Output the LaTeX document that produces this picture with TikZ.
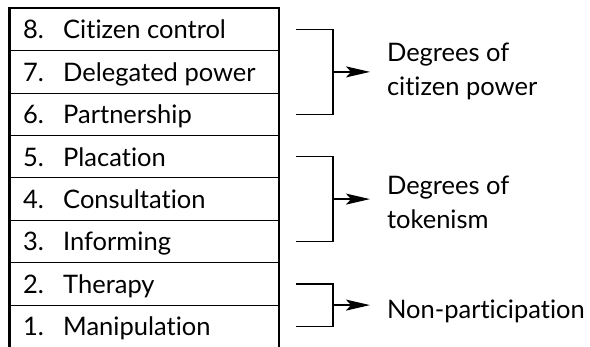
\documentclass[tikz,border=0pt]{standalone}
\usepackage{fontspec}
\setmainfont{Lato}[Ligatures=NoCommon]
\usetikzlibrary{positioning, arrows.meta, calc}

\tikzset{
    rung/.style={minimum width=269.5pt, minimum height=42.4pt, inner sep=0, outer sep=0},
    rungline/.style={line width=1.1pt},
    frame/.style={line width=2.4pt, line join=miter},
    brace/.style={line width=1.3pt},
    txt/.style={anchor=base west, inner sep=0},
    group/.style={align=left, inner sep=0, outer sep=0}
}

\begin{document}
\begin{tikzpicture}[>={Stealth[length=24pt, width=11pt, inset=5pt]}, x=1pt, y=-1pt, font=\fontsize{25.5}{34}\selectfont]
    \useasboundingbox (0,0) rectangle (590,347);

    % Ladder rungs
    \foreach \n/\val in {8/{Citizen control}, 7/{Delegated power}, 6/{Partnership}, 5/{Placation}, 4/{Consultation}, 3/{Informing}, 2/{Therapy}, 1/{Manipulation}} {
        \node[rung] (r\n) at (144.25, {8.3+(8-\n)*42.4+21.2}) {};
        \node[txt] (n\n) at ($(r\n.west)+(13.5,9.5)$) {\n.};
        \node[txt] (t\n) at ($(r\n.west)+(53.5,9.5)$) {\val};
    }
    \foreach \n in {7,...,1} {
        \draw[rungline] (r\n.north west) -- (r\n.north east);
    }
    \draw[frame] (r1.south west) -- (r8.north west) -- (r8.north east) -- (r1.south east);

    % Brackets
    \coordinate (m1) at ([xshift=54pt]r7.east);
    \coordinate (m2) at ([xshift=54pt]r4.east);
    \coordinate (m3) at ($(r2.east)!0.5!(r1.east)+(54,0)$);
    \draw[brace] ([xshift=17pt]r8.east) -| (m1) |- ([xshift=17pt]r6.east);
    \draw[brace] ([xshift=17pt]r5.east) -| (m2) |- ([xshift=17pt]r3.east);
    \draw[brace] ([xshift=17pt]r2.east) -| (m3) |- ([xshift=17pt]r1.east);

    % Arrow tips and groups
    \coordinate (a1) at ([xshift=37pt]m1);
    \coordinate (a2) at ([xshift=37pt]m2);
    \coordinate (a3) at ([xshift=37pt]m3);
    \node[group, right=17pt of a1] (g1) {Degrees of\\citizen power};
    \node[group, right=17pt of a2, yshift=-3pt] (g2) {Degrees of\\tokenism};
    \node[group, right=17pt of a3, yshift=-6pt] (g3) {Non-participation};

    \draw[brace, ->] (m1) -- (a1);
    \draw[brace, ->] (m2) -- (a2);
    \draw[brace, ->] (m3) -- (a3);
\end{tikzpicture}
\end{document}
